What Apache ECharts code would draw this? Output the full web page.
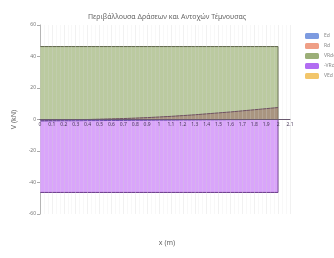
<!DOCTYPE html>
<html>
<head>
<meta charset="utf-8">
<script src="https://cdn.jsdelivr.net/npm/echarts@6/dist/echarts.min.js"></script>
<style>
html, body { margin: 0; padding: 0; background: #fff; }
#chart { width: 334px; height: 258px; }
</style>
</head>
<body>
<div id="chart"></div>
<script>
// θέσεις x (m)
var xs = [0, 0.1, 0.2, 0.3, 0.4, 0.5, 0.6, 0.7, 0.8, 0.9, 1, 1.1, 1.2, 1.3, 1.4, 1.5, 1.6, 1.7, 1.8, 1.9, 2];
var ed = [-0.9, -0.9, -0.8, -0.8, -0.7, -0.7, -0.6, -0.6, -0.5, -0.5, -0.4, -0.4, -0.3, -0.3, -0.2, -0.2, -0.1, -0.1, 0, 0, 0];
var rd = [-0.8, -0.6, -0.4, -0.2, 0, 0.2, 0.4, 0.6, 0.9, 1.2, 1.6, 2.0, 2.5, 3.0, 3.6, 4.2, 4.8, 5.5, 6.2, 6.9, 7.6];
var vrdcPos = [46.3, 46.3, 46.3, 46.3, 46.3, 46.3, 46.3, 46.3, 46.3, 46.3, 46.3, 46.3, 46.3, 46.3, 46.3, 46.3, 46.3, 46.3, 46.3, 46.3, 46.3];
var vrdcNeg = [-46.3, -46.3, -46.3, -46.3, -46.3, -46.3, -46.3, -46.3, -46.3, -46.3, -46.3, -46.3, -46.3, -46.3, -46.3, -46.3, -46.3, -46.3, -46.3, -46.3, -46.3];
var ved = [0, 0, 0, 0, 0, 0, 0, 0, 0, 0, 0, 0, 0, 0, 0, 0, 0, 0, 0, 0, 0];
var names = ["Ed", "Rd", "VRdc", "-VRdc", "VEd"];
var colors = ['#7d9be0', '#ef9f86', '#9caf78', '#b26df2', '#f2c66b'];

function pairs(vals, close) {
    var out = [];
    for (var i = 0; i < xs.length; i++) {
        out.push([xs[i], vals[i]]);
    }
    // κλείσιμο στο τέλος της δοκού
    if (close) out.push([xs[xs.length - 1], 0]);
    return out;
}

var chart = echarts.init(document.getElementById('chart'));
var option = {
    animation: false,
    color: colors,
    textStyle: { fontFamily: 'Noto Sans' },
    title: [{
        text: 'Περιβάλλουσα Δράσεων και Αντοχών Τέμνουσας',
        left: 'center',
        top: 8,
        textStyle: { fontSize: 7, fontWeight: 'normal', color: '#666' }
    }, {
        text: 'x (m)',
        left: 'center',
        top: 234,
        textStyle: { fontSize: 7, fontWeight: 'normal', color: '#666' }
    }],
    legend: {
        data: names,
        orient: 'vertical',
        left: 300,
        top: 28,
        itemWidth: 14,
        itemHeight: 6,
        itemGap: 4,
        icon: 'roundRect',
        textStyle: { fontSize: 5, color: '#888' }
    },
    grid: {
        left: 40,
        right: 44,
        top: 25,
        bottom: 44
    },
    xAxis: {
        type: 'value',
        min: 0,
        max: 2.1,
        interval: 0.1,
        position: 'bottom',
        offset: -94.5,
        z: 10,
        axisLine: { onZero: false, lineStyle: { color: '#6a5a70' } },
        axisTick: { show: false },
        axisLabel: { fontSize: 5, color: '#4a3a5a', margin: 3 },
        splitLine: { show: true, lineStyle: { color: 'rgba(210,210,210,0.3)' } },
        minorTick: { show: false, splitNumber: 3 },
        minorSplitLine: { show: true, lineStyle: { color: 'rgba(220,220,220,0.2)' } }
    },
    yAxis: {
        type: 'value',
        min: -60,
        max: 60,
        interval: 20,
        name: 'V (kN)',
        nameLocation: 'middle',
        nameGap: 18,
        nameTextStyle: { fontSize: 7, color: '#666' },
        axisLine: { show: true, lineStyle: { color: '#aaa' } },
        axisTick: { show: true, length: 3 },
        axisLabel: { fontSize: 5, color: '#777', margin: 4 },
        splitLine: { show: false }
    },
    series: [{
        name: names[0],
        type: 'line',
        symbol: 'none',
        data: pairs(ed, false),
        itemStyle: { color: colors[0] },
        lineStyle: { width: 1, color: '#6a4ab0' },
        z: 4
    }, {
        name: names[1],
        type: 'line',
        symbol: 'none',
        data: pairs(rd, false),
        itemStyle: { color: colors[1] },
        lineStyle: { width: 1, color: '#6e5060' },
        areaStyle: { color: '#9a6a66', opacity: 0.55 },
        z: 3
    }, {
        name: names[2],
        type: 'line',
        symbol: 'none',
        data: pairs(vrdcPos, true),
        itemStyle: { color: colors[2] },
        lineStyle: { width: 1, color: '#5e6648' },
        areaStyle: { color: '#b4c496', opacity: 0.9 },
        z: 1
    }, {
        name: names[3],
        type: 'line',
        symbol: 'none',
        data: pairs(vrdcNeg, true),
        itemStyle: { color: colors[3] },
        lineStyle: { width: 1, color: '#6a3a8a' },
        areaStyle: { color: '#d7a0fa', opacity: 0.95 },
        z: 2
    }, {
        name: names[4],
        type: 'line',
        symbol: 'none',
        data: pairs(ved, false),
        itemStyle: { color: colors[4] },
        lineStyle: { width: 0.5, color: '#e0b45a', opacity: 0.6 },
        z: 0
    }]
};
chart.setOption(option);
</script>
</body>
</html>
